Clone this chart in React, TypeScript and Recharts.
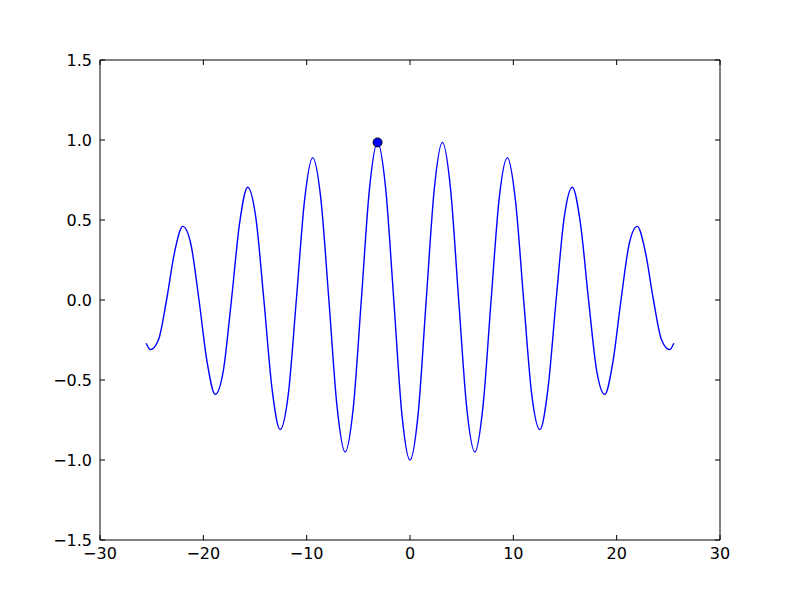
import React from 'react';
import { ComposedChart, Line, Scatter, XAxis, YAxis } from 'recharts';

// curve samples, every quarter period
const xs = [
  -25.53, -25.13, -24.35, -23.56, -22.78, -21.99, -21.21, -20.42, -19.63, -18.85, -18.06,
  -17.28, -16.49, -15.71, -14.92, -14.14, -13.35, -12.57, -11.78, -11.0, -10.21, -9.42,
  -8.64, -7.85, -7.07, -6.28, -5.5, -4.71, -3.93, -3.14, -2.36, -1.57, -0.79, 0,
  0.79, 1.57, 2.36, 3.14, 3.93, 4.71, 5.5, 6.28, 7.07, 7.85, 8.64, 9.42, 10.21, 11.0,
  11.78, 12.57, 13.35, 14.14, 14.92, 15.71, 16.49, 17.28, 18.06, 18.85, 19.63, 20.42,
  21.21, 21.99, 22.78, 23.56, 24.35, 25.13, 25.53,
];
const ys = [
  -0.27, -0.31, -0.25, 0, 0.3, 0.46, 0.35, 0, -0.39, -0.59, -0.44,
  0, 0.48, 0.705, 0.515, 0, -0.555, -0.81, -0.59, 0, 0.62, 0.89,
  0.64, 0, -0.66, -0.95, -0.68, 0, 0.69, 0.985, 0.7, 0, -0.71, -1.0,
  -0.71, 0, 0.7, 0.985, 0.69, 0, -0.68, -0.95, -0.66, 0, 0.64, 0.89, 0.62, 0,
  -0.59, -0.81, -0.555, 0, 0.515, 0.705, 0.48, 0, -0.44, -0.59, -0.39, 0,
  0.35, 0.46, 0.3, 0, -0.25, -0.31, -0.27,
];

// the single highlighted point
const markerX = [-3.14];
const markerY = [0.985];

const xTicks = [-30, -20, -10, 0, 10, 20, 30];
const yTicks = [-1.5, -1.0, -0.5, 0.0, 0.5, 1.0, 1.5];

const curve = xs.map((x, i) => ({ x, y: ys[i] }));
const marker = markerX.map((x, i) => ({ x, y: markerY[i] }));

const FONT = '"DejaVu Sans", sans-serif';
const FS = 16;
const TICK = 5;
const GAP_Y = 8;
const GAP_X = 7;
const minus = (s: string) => s.replace('-', '\u2212');

const LeftTick = (props: any) => {
  const { x, y, payload } = props;
  const ax = x + GAP_Y;
  return (
    <g>
      <line x1={ax} y1={y} x2={ax + TICK} y2={y} stroke="#000" />
      <text x={x} y={y} dy="0.36em" textAnchor="end" fontFamily={FONT} fontSize={FS} fill="#000">
        {minus(Number(payload.value).toFixed(1))}
      </text>
    </g>
  );
};

const BottomTick = (props: any) => {
  const { x, y, payload } = props;
  const ay = y - GAP_X;
  return (
    <g>
      <line x1={x} y1={ay} x2={x} y2={ay - TICK} stroke="#000" />
      <text x={x} y={y} dy="0.78em" textAnchor="middle" fontFamily={FONT} fontSize={FS} fill="#000">
        {minus(String(payload.value))}
      </text>
    </g>
  );
};

const RightTick = (props: any) => {
  const { x, y } = props;
  return <line x1={x} y1={y} x2={x - TICK} y2={y} stroke="#000" />;
};

const TopTick = (props: any) => {
  const { x, y } = props;
  return <line x1={x} y1={y} x2={x} y2={y + TICK} stroke="#000" />;
};

export default function App() {
  return (
    <div style={{ position: 'absolute', left: 0, top: 0, width: 800, height: 600, background: '#fff' }}>
      <ComposedChart width={800} height={600} margin={{ top: 59, right: 79, bottom: 59, left: 99 }}>
        <XAxis
          xAxisId="b"
          dataKey="x"
          type="number"
          domain={[-30, 30]}
          ticks={xTicks}
          allowDataOverflow
          height={1}
          tickSize={0}
          tickMargin={GAP_X}
          tickLine={false}
          axisLine={{ stroke: '#000' }}
          tick={<BottomTick />}
        />
        <XAxis
          xAxisId="t"
          orientation="top"
          dataKey="x"
          type="number"
          domain={[-30, 30]}
          ticks={xTicks}
          allowDataOverflow
          height={1}
          tickSize={0}
          tickMargin={0}
          tickLine={false}
          axisLine={{ stroke: '#000' }}
          tick={<TopTick />}
        />
        <YAxis
          yAxisId="l"
          dataKey="y"
          type="number"
          domain={[-1.5, 1.5]}
          ticks={yTicks}
          allowDataOverflow
          width={1}
          tickSize={0}
          tickMargin={GAP_Y}
          tickLine={false}
          axisLine={{ stroke: '#000' }}
          tick={<LeftTick />}
        />
        <YAxis
          yAxisId="r"
          orientation="right"
          dataKey="y"
          type="number"
          domain={[-1.5, 1.5]}
          ticks={yTicks}
          allowDataOverflow
          width={1}
          tickSize={0}
          tickMargin={0}
          tickLine={false}
          axisLine={{ stroke: '#000' }}
          tick={<RightTick />}
        />
        <Line
          data={curve}
          xAxisId="b"
          yAxisId="l"
          dataKey="y"
          type="monotone"
          stroke="#0000ff"
          strokeWidth={1.4}
          dot={false}
          activeDot={false}
          isAnimationActive={false}
        />
        <Scatter
          data={marker}
          xAxisId="t"
          yAxisId="r"
          dataKey="y"
          isAnimationActive={false}
          shape={(p: any) => <circle cx={p.cx} cy={p.cy} r={4.5} fill="#0000ff" stroke="#000" strokeWidth={1} />}
        />
      </ComposedChart>
    </div>
  );
}
